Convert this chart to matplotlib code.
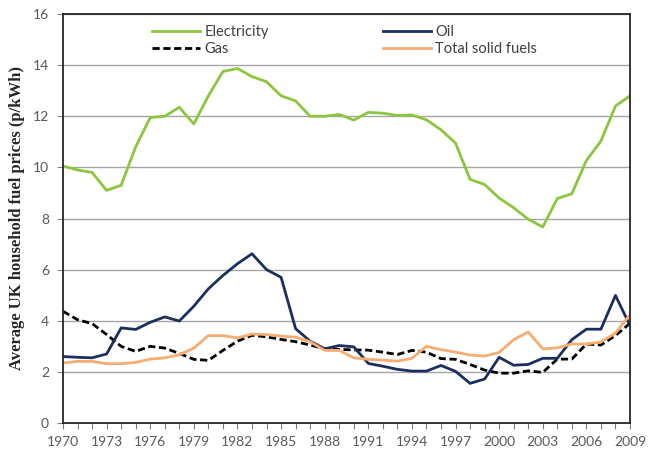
import matplotlib
matplotlib.use("Agg")
import matplotlib.pyplot as plt
from matplotlib.ticker import MultipleLocator

years = list(range(1970, 2010))

electricity = [10.05, 9.9, 9.8, 9.1, 9.3, 10.8, 11.95, 12.0, 12.35, 11.7,
               12.8, 13.75, 13.87, 13.55, 13.35, 12.8, 12.6, 12.0, 12.0, 12.07,
               11.85, 12.15, 12.12, 12.03, 12.05, 11.86, 11.47, 10.95, 9.53, 9.33,
               8.8, 8.42, 7.97, 7.67, 8.78, 8.97, 10.27, 11.03, 12.4, 12.8]

oil = [2.6, 2.57, 2.55, 2.7, 3.72, 3.66, 3.94, 4.15, 3.99, 4.57,
       5.25, 5.77, 6.23, 6.62, 6.0, 5.7, 3.69, 3.2, 2.9, 3.03,
       2.98, 2.33, 2.22, 2.1, 2.03, 2.03, 2.25, 2.02, 1.55, 1.72,
       2.57, 2.26, 2.29, 2.53, 2.53, 3.26, 3.67, 3.67, 4.99, 3.81]

gas = [4.37, 4.04, 3.89, 3.46, 3.0, 2.8, 3.0, 2.93, 2.72, 2.49,
       2.45, 2.84, 3.2, 3.43, 3.37, 3.27, 3.18, 3.05, 2.9, 2.88,
       2.86, 2.85, 2.77, 2.68, 2.84, 2.77, 2.52, 2.49, 2.29, 2.07,
       1.95, 1.95, 2.04, 1.98, 2.5, 2.5, 3.09, 3.05, 3.42, 3.9]

solid_fuels = [2.35, 2.41, 2.41, 2.32, 2.32, 2.37, 2.5, 2.55, 2.67, 2.93,
               3.42, 3.42, 3.33, 3.48, 3.46, 3.4, 3.36, 3.18, 2.84, 2.84,
               2.55, 2.49, 2.46, 2.42, 2.53, 3.0, 2.87, 2.77, 2.66, 2.62,
               2.76, 3.26, 3.56, 2.9, 2.94, 3.09, 3.09, 3.17, 3.52, 4.24]

xtick_labels = list(range(1970, 2010, 3))
ytick_values = list(range(0, 17, 2))

fig = plt.figure(figsize=(6.48, 4.54), dpi=100)
ax = fig.add_axes([63/648, 1 - 423/454, (630-63)/648, (423-14)/454])

tick_font = "Lato"
gray_text = "#595959"

ax.plot(years, electricity, color="#8CC63E", lw=2.0, label="Electricity")
ax.plot(years, gas, color="black", lw=2.0, ls=(0, (2.6, 1.3)), label="Gas")
ax.plot(years, oil, color="#1B2F5E", lw=2.0, label="Oil")
ax.plot(years, solid_fuels, color="#F7AD72", lw=2.0, label="Total solid fuels")

ax.set_xlim(1970, 2009)
ax.set_ylim(0, 16)
ax.set_xticks(xtick_labels)
ax.set_xticklabels([str(y) for y in xtick_labels])
ax.xaxis.set_minor_locator(MultipleLocator(1))
ax.set_yticks(ytick_values)
ax.yaxis.grid(True, color="#A6A6A6", lw=1.0)
ax.set_axisbelow(True)

ax.tick_params(axis="x", which="both", direction="out", length=4, width=0.8,
               color="#808080", pad=5)
ax.tick_params(axis="y", which="both", direction="out", length=4, width=0.8,
               color="#808080", pad=6)
for lab in ax.get_xticklabels() + ax.get_yticklabels():
    lab.set_fontfamily(tick_font)
    lab.set_fontsize(10)
    lab.set_color(gray_text)

for sp in ax.spines.values():
    sp.set_color("#262626")
    sp.set_linewidth(1.3)

ax.set_ylabel("Average UK household fuel prices (p/kWh)", fontfamily="Liberation Serif",
              fontweight="bold", fontsize=12, color="#262626", labelpad=6)

leg = ax.legend(loc="upper left", bbox_to_anchor=((145-63)/567, 0.99), ncol=2,
                frameon=False, borderpad=0, handlelength=3.3, handletextpad=0.3,
                columnspacing=7.8, labelspacing=0.2,
                prop={"family": tick_font, "size": 10.5})
for t in leg.get_texts():
    t.set_color("#404040")

fig.savefig("out.png", dpi=100)
